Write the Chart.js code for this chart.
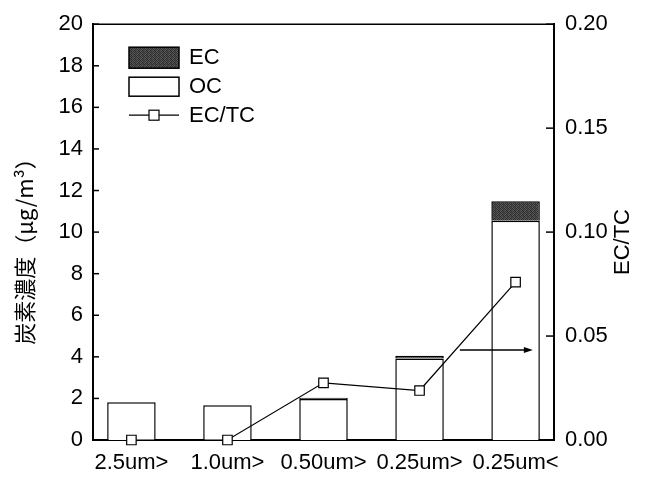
<!DOCTYPE html>
<html>
<head>
<meta charset="utf-8">
<script src="https://cdn.jsdelivr.net/npm/chart.js@4.4.1/dist/chart.umd.min.js"></script>
<style>
  html, body { margin: 0; background: #fff; }
</style>
</head>
<body>
<canvas id="chart" width="650" height="479"></canvas>
<script>
// particle size classes
const sizes = ['2.5um>', '1.0um>', '0.50um>', '0.25um>', '0.25um<']
// carbon concentration, ug/m3
const ocValues = [1.82, 1.67, 1.97, 3.92, 10.55]
const ecValues = [0.0, 0.0, 0.06, 0.13, 0.93]
// EC / TC ratio (right axis)
const ecTcRatio = [0.0, 0.0, 0.0275, 0.0238, 0.0759]

const FONT = '"Liberation Sans", Arial, sans-serif'
const CJK = '"Noto Sans CJK JP", "Liberation Sans", sans-serif'

// dark stippled fill for EC
function ecPattern() {
  const c = document.createElement('canvas')
  c.width = 4; c.height = 4
  const g = c.getContext('2d')
  const shades = ['#2a2a2a', '#5a5a5a', '#333', '#4a4a4a',
                  '#555', '#303030', '#606060', '#2e2e2e',
                  '#3a3a3a', '#575757', '#282828', '#4f4f4f',
                  '#5c5c5c', '#343434', '#4c4c4c', '#2c2c2c']
  shades.forEach((s, i) => { g.fillStyle = s; g.fillRect(i % 4, Math.floor(i / 4), 1, 1) })
  return g.createPattern(c, 'repeat')
}
const ecFill = ecPattern()

const frame = {
  id: 'frame',
  afterDatasetsDraw(chart) {
    const { ctx, chartArea: a, scales } = chart
    ctx.save()
    ctx.strokeStyle = '#000'
    ctx.lineWidth = 1.5
    ctx.beginPath()
    ctx.moveTo(a.left, a.top); ctx.lineTo(a.right, a.top)
    ctx.stroke()
    // inward tick marks
    ctx.lineWidth = 1.5
    scales.y.ticks.forEach(t => {
      const y = scales.y.getPixelForValue(t.value)
      ctx.beginPath(); ctx.moveTo(a.left, y); ctx.lineTo(a.left + 6, y); ctx.stroke()
    })
    scales.y2.ticks.forEach(t => {
      const y = scales.y2.getPixelForValue(t.value)
      ctx.beginPath(); ctx.moveTo(a.right - 8, y); ctx.lineTo(a.right, y); ctx.stroke()
    })

    // arrow pointing to right axis
    const ay = scales.y.getPixelForValue(4.33)
    const ax0 = scales.x.getPixelForValue(3.42)
    const ax1 = scales.x.getPixelForValue(4.18)
    ctx.lineWidth = 1.5
    ctx.beginPath(); ctx.moveTo(ax0, ay); ctx.lineTo(ax1 - 6, ay); ctx.stroke()
    ctx.fillStyle = '#000'
    ctx.beginPath(); ctx.moveTo(ax1, ay); ctx.lineTo(ax1 - 9, ay - 3); ctx.lineTo(ax1 - 9, ay + 3); ctx.closePath(); ctx.fill()

    // legend
    const lx = a.left + 36, ly = a.top + 23
    ctx.lineWidth = 1.5
    ctx.fillStyle = ecFill
    ctx.fillRect(lx, ly, 50, 21)
    ctx.strokeRect(lx, ly, 50, 21)
    ctx.fillStyle = '#fff'
    ctx.fillRect(lx, ly + 30, 50, 19)
    ctx.strokeRect(lx, ly + 30, 50, 19)
    ctx.lineWidth = 1.2
    ctx.beginPath(); ctx.moveTo(lx, ly + 68); ctx.lineTo(lx + 50, ly + 68); ctx.stroke()
    ctx.fillRect(lx + 20, ly + 63, 10, 10)
    ctx.strokeRect(lx + 20, ly + 63, 10, 10)
    ctx.fillStyle = '#000'
    ctx.font = '22px ' + FONT
    ctx.textBaseline = 'middle'
    ctx.textAlign = 'left'
    ctx.fillText('EC', lx + 60, ly + 11)
    ctx.fillText('OC', lx + 60, ly + 40)
    ctx.fillText('EC/TC', lx + 60, ly + 69)

    // axis titles
    ctx.textAlign = 'center'
    ctx.save()
    ctx.translate(25, 246)
    ctx.rotate(-Math.PI / 2)
    ctx.font = '22px ' + CJK
    ctx.fillText('炭素濃度（μg/m³）', 0, 0)
    ctx.restore()
    ctx.save()
    ctx.translate(623, 242)
    ctx.rotate(-Math.PI / 2)
    ctx.font = '22px ' + FONT
    ctx.fillText('EC/TC', 0, 0)
    ctx.restore()
    ctx.restore()
  }
}

const xy = arr => arr.map((v, i) => ({ x: i, y: v }))

new Chart(document.getElementById('chart'), {
  type: 'bar',
  data: {
    datasets: [
      {
        label: 'OC',
        data: xy(ocValues),
        backgroundColor: '#fff',
        borderColor: '#000',
        borderWidth: 1.5,
        categoryPercentage: 1,
        barPercentage: 0.505,
        yAxisID: 'y',
        order: 1
      },
      {
        label: 'EC',
        data: xy(ecValues),
        backgroundColor: ecFill,
        borderColor: '#000',
        borderWidth: 1.5,
        categoryPercentage: 1,
        barPercentage: 0.505,
        yAxisID: 'y',
        order: 1
      },
      {
        type: 'line',
        label: 'EC/TC',
        data: xy(ecTcRatio),
        borderColor: '#000',
        borderWidth: 1.2,
        pointStyle: 'rect',
        pointRadius: 6.7,
        pointBackgroundColor: '#fff',
        pointBorderColor: '#000',
        pointBorderWidth: 1.2,
        yAxisID: 'y2',
        clip: false,
        order: 0
      }
    ]
  },
  options: {
    responsive: false,
    devicePixelRatio: 1,
    animation: false,
    layout: { padding: { top: 20, bottom: 0, left: 0, right: 0 } },
    plugins: { legend: { display: false }, tooltip: { enabled: false } },
    scales: {
      x: {
        type: 'linear',
        min: -0.4,
        max: 4.4,
        offset: false,
        stacked: true,
        afterBuildTicks: scale => { scale.ticks = sizes.map((_, i) => ({ value: i })) },
        afterFit: scale => { scale.height = 39 },
        grid: { display: false, drawTicks: false },
        border: { color: '#000', width: 2 },
        ticks: {
          callback: v => sizes[v],
          color: '#000',
          font: { family: FONT, size: 22 },
          padding: 10,
          maxRotation: 0,
          autoSkip: false
        }
      },
      y: {
        position: 'left',
        min: 0,
        max: 20,
        stacked: true,
        afterFit: scale => { scale.width = 93 },
        grid: { display: false, drawTicks: false },
        border: { color: '#000', width: 2 },
        ticks: {
          stepSize: 2,
          color: '#000',
          font: { family: FONT, size: 22 },
          padding: 10
        }
      },
      y2: {
        position: 'right',
        min: 0,
        max: 0.2,
        afterFit: scale => { scale.width = 96 },
        grid: { display: false, drawTicks: false },
        border: { color: '#000', width: 2 },
        ticks: {
          stepSize: 0.05,
          callback: v => v.toFixed(2),
          color: '#000',
          font: { family: FONT, size: 22 },
          padding: 11
        }
      }
    }
  },
  plugins: [frame]
})
</script>
</body>
</html>
